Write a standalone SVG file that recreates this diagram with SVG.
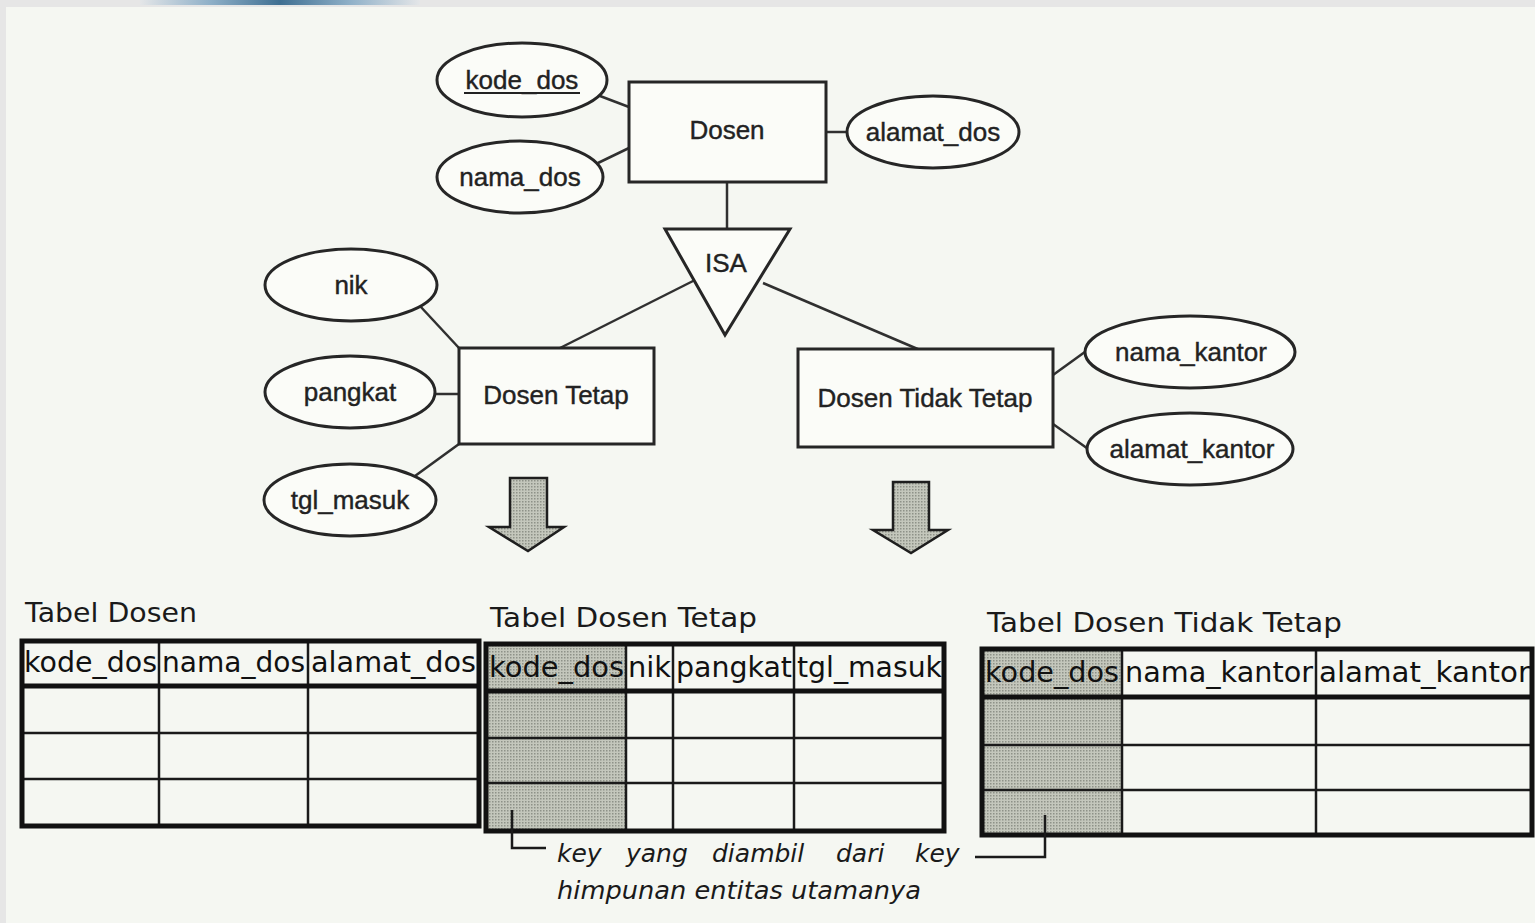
<svg xmlns="http://www.w3.org/2000/svg" width="1535" height="923" viewBox="0 0 1535 923">
<defs>
<linearGradient id="topbar" x1="0" y1="0" x2="1" y2="0">
<stop offset="0" stop-color="#e4e6e8"/>
<stop offset="0.25" stop-color="#8fb0c8"/>
<stop offset="0.5" stop-color="#3f6f92"/>
<stop offset="0.75" stop-color="#8fb0c8"/>
<stop offset="1" stop-color="#e4e6e8"/>
</linearGradient>
<pattern id="dots" width="3" height="3" patternUnits="userSpaceOnUse">
<rect width="3" height="3" fill="#c4c7bc"/>
<rect width="1.5" height="1.5" fill="#8e9288"/>
</pattern>
</defs>
<style>
.ent{fill:#fbfcf8;stroke:#262626;stroke-width:3}
.att{fill:#fbfcf8;stroke:#262626;stroke-width:3}
.lbl{font-family:"Liberation Sans",Arial,sans-serif;font-size:26px;fill:#222;stroke:#222;stroke-width:0.4;text-anchor:middle}
.conn line{stroke:#303030;stroke-width:2.5}
.arrow{fill:url(#dots);stroke:#1e1e1e;stroke-width:2.5}
.ttl{font-family:"DejaVu Sans","Open Sans",sans-serif;font-size:27px;fill:#1a1a1a}
.hdr{font-family:"DejaVu Sans","Open Sans",sans-serif;font-size:29px;fill:#111}
.outer{fill:none;stroke:#111;stroke-width:5}
.thick{stroke:#111;stroke-width:5}
.thin{stroke:#1a1a1a;stroke-width:2.5}
.shade{fill:url(#dots)}
.note{font-family:"DejaVu Sans","Open Sans",sans-serif;font-size:25px;font-style:italic;fill:#1a1a1a}
.lead{fill:none;stroke:#1a1a1a;stroke-width:2.5}
</style>
<rect width="1535" height="923" fill="#f5f7f2"/>
<rect x="0" y="0" width="1535" height="7" fill="#e6e6e6"/>
<rect x="140" y="0" width="280" height="5" fill="url(#topbar)"/>
<rect x="0" y="7" width="6" height="916" fill="#e6e6e6"/>

<g id="connectors" class="conn">
<line x1="600" y1="96" x2="629" y2="107"/>
<line x1="598" y1="163" x2="629" y2="148"/>
<line x1="826" y1="132" x2="847" y2="132"/>
<line x1="727" y1="182" x2="727" y2="229"/>
<line x1="697" y1="279" x2="560" y2="348"/>
<line x1="763" y1="283" x2="920" y2="350"/>
<line x1="420" y1="306" x2="459" y2="348"/>
<line x1="434" y1="394" x2="459" y2="394"/>
<line x1="415" y1="476" x2="459" y2="444"/>
<line x1="1053" y1="375" x2="1089" y2="349"/>
<line x1="1053" y1="424" x2="1091" y2="451"/>
</g>

<g id="node-kode_dos">
<ellipse class="att" cx="522" cy="80" rx="85" ry="37"/>
<text class="lbl" x="522" y="89">kode_dos</text>
<line x1="464" y1="93" x2="580" y2="93" stroke="#222" stroke-width="2"/>
</g>
<g id="node-nama_dos">
<ellipse class="att" cx="520" cy="177" rx="83" ry="36"/>
<text class="lbl" x="520" y="186">nama_dos</text>
</g>
<g id="node-dosen">
<rect class="ent" x="629" y="82" width="197" height="100"/>
<text class="lbl" x="727" y="139">Dosen</text>
</g>
<g id="node-alamat_dos">
<ellipse class="att" cx="933" cy="132" rx="86" ry="36"/>
<text class="lbl" x="933" y="141">alamat_dos</text>
</g>
<g id="node-isa">
<polygon class="ent" points="665,229 790,229 725,335"/>
<text class="lbl" x="726" y="272">ISA</text>
</g>
<g id="node-nik">
<ellipse class="att" cx="351" cy="285" rx="86" ry="36"/>
<text class="lbl" x="351" y="294">nik</text>
</g>
<g id="node-pangkat">
<ellipse class="att" cx="350" cy="392" rx="85" ry="36"/>
<text class="lbl" x="350" y="401">pangkat</text>
</g>
<g id="node-tgl_masuk">
<ellipse class="att" cx="350" cy="500" rx="86" ry="36"/>
<text class="lbl" x="350" y="509">tgl_masuk</text>
</g>
<g id="node-dosen_tetap">
<rect class="ent" x="459" y="348" width="195" height="96"/>
<text class="lbl" x="556" y="404">Dosen Tetap</text>
</g>
<g id="node-dosen_tidak_tetap">
<rect class="ent" x="798" y="349" width="255" height="98"/>
<text class="lbl" x="925" y="407">Dosen Tidak Tetap</text>
</g>
<g id="node-nama_kantor">
<ellipse class="att" cx="1190" cy="352" rx="105" ry="36"/>
<text class="lbl" x="1191" y="361">nama_kantor</text>
</g>
<g id="node-alamat_kantor">
<ellipse class="att" cx="1190" cy="449" rx="103" ry="36"/>
<text class="lbl" x="1192" y="458">alamat_kantor</text>
</g>

<g id="arrow-left">
<polygon class="arrow" points="510,478 547,478 547,527 564,527 528,551 489,527 510,527"/>
</g>
<g id="arrow-right">
<polygon class="arrow" points="893,482 929,482 929,530 948,530 911,553 873,530 893,530"/>
</g>

<g id="tabel-dosen">
<text class="ttl" x="25" y="622" textLength="172" lengthAdjust="spacingAndGlyphs">Tabel Dosen</text>
<line class="thin" x1="22" y1="733" x2="479" y2="733"/>
<line class="thin" x1="22" y1="779" x2="479" y2="779"/>
<line class="thin" x1="159" y1="641" x2="159" y2="826"/>
<line class="thin" x1="308" y1="641" x2="308" y2="826"/>
<line class="thick" x1="22" y1="686" x2="479" y2="686"/>
<rect class="outer" x="22" y="641" width="457" height="185"/>
<text class="hdr" x="24" y="672" textLength="133" lengthAdjust="spacingAndGlyphs">kode_dos</text>
<text class="hdr" x="162" y="672" textLength="143" lengthAdjust="spacingAndGlyphs">nama_dos</text>
<text class="hdr" x="311" y="672" textLength="165" lengthAdjust="spacingAndGlyphs">alamat_dos</text>
</g>

<g id="tabel-dosen-tetap">
<text class="ttl" x="490" y="627" textLength="267" lengthAdjust="spacingAndGlyphs">Tabel Dosen Tetap</text>
<rect class="shade" x="486" y="644" width="140" height="187"/>
<line class="thin" x1="486" y1="738" x2="944" y2="738"/>
<line class="thin" x1="486" y1="783" x2="944" y2="783"/>
<line class="thin" x1="626" y1="644" x2="626" y2="831"/>
<line class="thin" x1="673" y1="644" x2="673" y2="831"/>
<line class="thin" x1="794" y1="644" x2="794" y2="831"/>
<line class="thick" x1="486" y1="691" x2="944" y2="691"/>
<rect class="outer" x="486" y="644" width="458" height="187"/>
<text class="hdr" x="489" y="677" textLength="135" lengthAdjust="spacingAndGlyphs">kode_dos</text>
<text class="hdr" x="628" y="677" textLength="43" lengthAdjust="spacingAndGlyphs">nik</text>
<text class="hdr" x="676" y="677" textLength="116" lengthAdjust="spacingAndGlyphs">pangkat</text>
<text class="hdr" x="797" y="677" textLength="145" lengthAdjust="spacingAndGlyphs">tgl_masuk</text>
</g>

<g id="tabel-dosen-tidak-tetap">
<text class="ttl" x="987" y="632" textLength="355" lengthAdjust="spacingAndGlyphs">Tabel Dosen Tidak Tetap</text>
<rect class="shade" x="982" y="649" width="140" height="186"/>
<line class="thin" x1="982" y1="745" x2="1532" y2="745"/>
<line class="thin" x1="982" y1="790" x2="1532" y2="790"/>
<line class="thin" x1="1122" y1="649" x2="1122" y2="835"/>
<line class="thin" x1="1316" y1="649" x2="1316" y2="835"/>
<line class="thick" x1="982" y1="697" x2="1532" y2="697"/>
<rect class="outer" x="982" y="649" width="550" height="186"/>
<text class="hdr" x="985" y="682" textLength="134" lengthAdjust="spacingAndGlyphs">kode_dos</text>
<text class="hdr" x="1125" y="682" textLength="188" lengthAdjust="spacingAndGlyphs">nama_kantor</text>
<text class="hdr" x="1319" y="682" textLength="211" lengthAdjust="spacingAndGlyphs">alamat_kantor</text>
</g>

<g id="note">
<polyline class="lead" points="512,810 512,848 546,848"/>
<polyline class="lead" points="1045,815 1045,857 975,857"/>
<text class="note" x="557" y="862">key</text>
<text class="note" x="626" y="862">yang</text>
<text class="note" x="712" y="862">diambil</text>
<text class="note" x="836" y="862">dari</text>
<text class="note" x="915" y="862">key</text>
<text class="note" x="557" y="899" textLength="364" lengthAdjust="spacingAndGlyphs">himpunan entitas utamanya</text>
</g>
</svg>
